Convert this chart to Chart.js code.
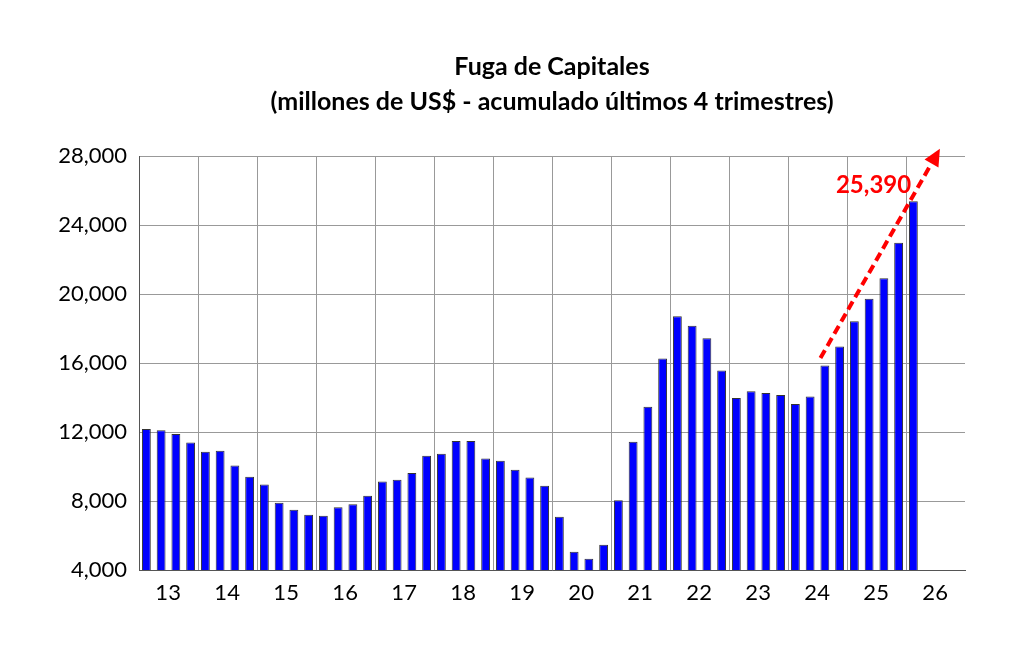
<!DOCTYPE html>
<html>
<head>
<meta charset="utf-8">
<script src="https://cdn.jsdelivr.net/npm/chart.js@4.4.1/dist/chart.umd.min.js"></script>
<style>
  html, body { margin: 0; padding: 0; background: #fff; }
  #wrap { width: 1024px; height: 658px; }
</style>
</head>
<body>
<div id="wrap"><canvas id="fuga-chart" width="1024" height="658"></canvas></div>
<script>
// year labels on the x axis (each year = 4 quarters)
const years = ['13', '14', '15', '16', '17', '18', '19', '20', '21', '22', '23', '24', '25', '26'];
const quarters = ['I', 'II', 'III', 'IV'];

// capital flight, millions of US$, last 4 quarters accumulated (2013 Q1 onward)
const fugaValues = [
  12170, 12100, 11880, 11400,
  10860, 10920, 10060, 9410,
  8960, 7900, 7500, 7200,
  7140, 7640, 7810, 8300,
  9130, 9230, 9620, 10630,
  10740, 11480, 11480, 10470,
  10340, 9810, 9370, 8880,
  7090, 5060, 4650, 5470,
  8050, 11440, 13470, 16270,
  18710, 18170, 17440, 15570,
  13980, 14360, 14270, 14150,
  13630, 14060, 15860, 16960,
  18420, 19730, 20920, 22980,
  25390
];

const yTicks = [4000, 8000, 12000, 16000, 20000, 24000, 28000];
const titleLines = ['Fuga de Capitales', '(millones de US$ - acumulado últimos 4 trimestres)'];
const lastLabel = '25,390';

// trend arrow, in category index / value units
const arrowFrom = { index: 45.7, value: 16290 };
const arrowTo = { index: 53.8, value: 28430 };
const labelAt = { index: 49.3, value: 26330 };

const categories = [];
years.forEach(y => quarters.forEach(q => categories.push(y + ' ' + q)));
const seriesData = categories.map((c, i) => (i < fugaValues.length ? fugaValues[i] : null));

// title centred over the plot area, like the original
const titlePlugin = {
  id: 'plotTitle',
  afterDraw(chart) {
    const { ctx, chartArea } = chart;
    const cx = (chartArea.left + chartArea.right) / 2;
    ctx.save();
    ctx.fillStyle = '#000';
    ctx.font = 'bold 25px Lato';
    ctx.textAlign = 'center';
    ctx.textBaseline = 'middle';
    ctx.fillText(titleLines[0], cx, 67);
    ctx.fillText(titleLines[1], cx, 102);
    ctx.restore();
  }
};

const arrowPlugin = {
  id: 'trendArrow',
  afterDatasetsDraw(chart) {
    const { ctx, scales: { x, y } } = chart;
    const x1 = x.getPixelForValue(arrowFrom.index);
    const y1 = y.getPixelForValue(arrowFrom.value);
    const x2 = x.getPixelForValue(arrowTo.index);
    const y2 = y.getPixelForValue(arrowTo.value);
    const ang = Math.atan2(y2 - y1, x2 - x1);
    const head = 17;
    const bx = x2 - head * Math.cos(ang);
    const by = y2 - head * Math.sin(ang);

    ctx.save();
    ctx.strokeStyle = '#ff0000';
    ctx.fillStyle = '#ff0000';
    ctx.lineWidth = 4;
    ctx.setLineDash([9, 5]);
    ctx.beginPath();
    ctx.moveTo(x1, y1);
    ctx.lineTo(bx, by);
    ctx.stroke();
    ctx.setLineDash([]);
    ctx.beginPath();
    ctx.moveTo(x2, y2);
    ctx.lineTo(bx + 8 * Math.sin(ang), by - 8 * Math.cos(ang));
    ctx.lineTo(bx - 8 * Math.sin(ang), by + 8 * Math.cos(ang));
    ctx.closePath();
    ctx.fill();

    ctx.font = 'bold 24px Lato';
    ctx.textAlign = 'center';
    ctx.textBaseline = 'middle';
    ctx.fillText(lastLabel, x.getPixelForValue(labelAt.index), y.getPixelForValue(labelAt.value));
    ctx.restore();
  }
};

new Chart(document.getElementById('fuga-chart'), {
  type: 'bar',
  data: {
    labels: categories,
    datasets: [{
      data: seriesData,
      backgroundColor: '#0000ff',
      borderColor: '#333333',
      borderWidth: 1,
      barPercentage: 0.6,
      categoryPercentage: 1.0
    }]
  },
  options: {
    responsive: false,
    animation: false,
    layout: { padding: { left: 0, right: 59, top: 0, bottom: 0 } },
    plugins: {
      legend: { display: false },
      tooltip: { enabled: false },
      // keeps the room for the two title lines; text itself is drawn by titlePlugin
      title: {
        display: true,
        text: titleLines,
        color: 'rgba(0,0,0,0)',
        font: { family: 'Lato', size: 21, weight: 'bold', lineHeight: 1.67 },
        padding: { top: 50, bottom: 36 }
      }
    },
    scales: {
      x: {
        offset: true,
        grid: {
          offset: true,
          drawTicks: false,
          color: ctx => (ctx.index % 4 === 0 ? '#999999' : 'rgba(0,0,0,0)'),
          lineWidth: 1
        },
        border: { color: '#555555' },
        ticks: {
          autoSkip: false,
          maxRotation: 0,
          minRotation: 0,
          padding: 10,
          labelOffset: 7,
          color: '#000',
          font: { family: 'Lato', size: 22 },
          callback: (v, i) => (i % 4 === 1 ? years[Math.floor(i / 4)] : '')
        },
        afterFit: scale => { scale.height = 88; }
      },
      y: {
        min: yTicks[0],
        max: yTicks[yTicks.length - 1],
        afterBuildTicks: scale => { scale.ticks = yTicks.map(v => ({ value: v })); },
        grid: { color: '#999999', drawTicks: false },
        border: { color: '#555555' },
        ticks: {
          padding: 12,
          color: '#000',
          font: { family: 'Lato', size: 22 },
          callback: v => v.toLocaleString('en-US')
        },
        afterFit: scale => { scale.width = 139; }
      }
    }
  },
  plugins: [arrowPlugin, titlePlugin]
});
</script>
</body>
</html>
